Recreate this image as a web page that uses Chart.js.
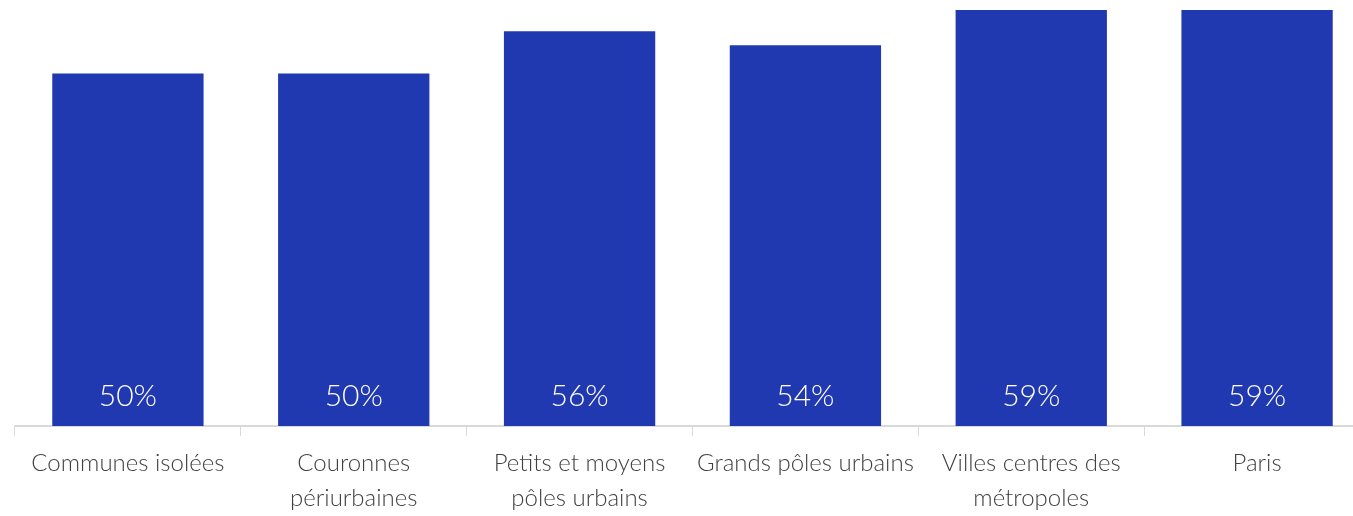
<!DOCTYPE html>
<html>
<head>
<meta charset="utf-8">
<script src="https://cdn.jsdelivr.net/npm/chart.js@4/dist/chart.umd.min.js"></script>
<style>
  html, body { margin: 0; padding: 0; background: #ffffff; overflow: hidden; }
  #wrap { width: 1370px; height: 526px; position: relative; }
</style>
</head>
<body>
<div id="wrap"><canvas id="c"></canvas></div>
<script>
const categories = [
  "Communes isolées",
  ["Couronnes", "périurbaines"],
  ["Petits et moyens", "pôles urbains"],
  "Grands pôles urbains",
  ["Villes centres des", "métropoles"],
  "Paris"
];
const values = [50, 50, 56, 54, 59, 59];
const valueLabels = ["50%", "50%", "56%", "54%", "59%", "59%"];

const FONT = "Lato, 'Open Sans', sans-serif";

const insideLabels = {
  id: 'insideLabels',
  afterDatasetsDraw(chart) {
    const ctx = chart.ctx;
    const meta = chart.getDatasetMeta(0);
    ctx.save();
    ctx.fillStyle = '#ffffff';
    ctx.font = '300 30px ' + FONT;
    ctx.textAlign = 'center';
    ctx.textBaseline = 'middle';
    meta.data.forEach((bar, i) => {
      ctx.fillText(valueLabels[i], bar.x, bar.base - 30);
    });
    ctx.restore();
  }
};

new Chart(document.getElementById('c'), {
  type: 'bar',
  data: {
    labels: categories,
    datasets: [{
      data: values,
      backgroundColor: '#2039b0',
      borderWidth: 0,
      barPercentage: 0.67,
      categoryPercentage: 1.0
    }]
  },
  options: {
    responsive: true,
    maintainAspectRatio: false,
    animation: false,
    layout: { padding: { left: 15, right: 0, top: 3, bottom: 0 } },
    plugins: { legend: { display: false }, tooltip: { enabled: false } },
    scales: {
      y: {
        display: false,
        min: 0,
        max: 60
      },
      x: {
        grid: {
          display: true,
          drawOnChartArea: false,
          drawTicks: true,
          tickLength: 10,
          color: '#d9d9d9',
          offset: true
        },
        border: { display: true, color: '#d9d9d9', width: 2 },
        ticks: {
          autoSkip: false,
          maxRotation: 0,
          minRotation: 0,
          color: '#404040',
          padding: 10,
          font: { family: FONT, size: 24, weight: 300, lineHeight: 1.46 }
        }
      }
    }
  },
  plugins: [insideLabels]
});
</script>
</body>
</html>
